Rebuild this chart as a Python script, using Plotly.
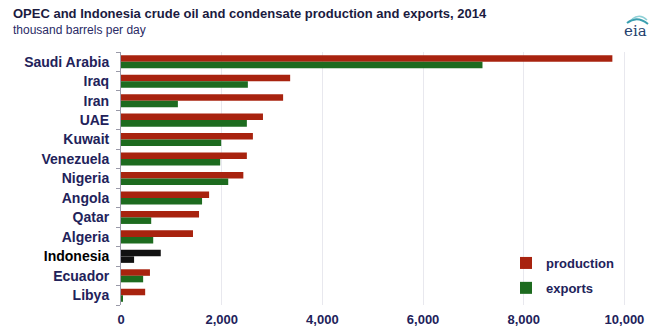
import plotly.graph_objects as go

countries = ["Saudi Arabia", "Iraq", "Iran", "UAE", "Kuwait", "Venezuela", "Nigeria",
             "Angola", "Qatar", "Algeria", "Indonesia", "Ecuador", "Libya"]
production = [9760, 3360, 3220, 2820, 2620, 2500, 2430, 1750, 1550, 1430, 790, 575, 480]
exports = [7180, 2520, 1130, 2500, 1990, 1970, 2130, 1610, 600, 640, 260, 440, 40]

PROD_COLOR = "#a8230f"
EXP_COLOR = "#1d6b1f"
HIGHLIGHT = "Indonesia"
HIGHLIGHT_COLOR = "#111111"

prod_colors = [HIGHLIGHT_COLOR if c == HIGHLIGHT else PROD_COLOR for c in countries]
exp_colors = [HIGHLIGHT_COLOR if c == HIGHLIGHT else EXP_COLOR for c in countries]

LABEL_COLOR = "#22225a"
FONT = "Liberation Sans, Arial, sans-serif"

L, R, T, B = 121, 28, 52, 24
PW = 660 - L - R
PH = 329 - T - B

fig = go.Figure()
fig.add_trace(go.Bar(y=countries, x=production, name="production", orientation="h",
                     marker=dict(color=prod_colors, line=dict(width=0)),
                     legendgroup="p"))
fig.add_trace(go.Bar(y=countries, x=exports, name="exports", orientation="h",
                     marker=dict(color=exp_colors, line=dict(width=0)),
                     legendgroup="e"))

ticktext = [f"<span style='color:#000000'>{c}</span>" if c == HIGHLIGHT else c for c in countries]

fig.update_layout(
    width=660, height=329,
    margin=dict(l=L, r=R, t=T, b=B, autoexpand=False),
    paper_bgcolor="white", plot_bgcolor="white",
    barmode="group", bargap=0.33, bargroupgap=0,
    font=dict(family=FONT, size=13, color=LABEL_COLOR),
    showlegend=True,
    legend=dict(x=(506 - L) / PW, y=1 - (248 - T) / PH, xanchor="left", yanchor="top",
                bgcolor="rgba(0,0,0,0)", font=dict(size=13, color=LABEL_COLOR, weight="bold"),
                traceorder="grouped", tracegroupgap=5, itemwidth=30),
    xaxis=dict(range=[0, 10150], tickvals=[0, 2000, 4000, 6000, 8000, 10000],
               tickformat=",", showgrid=True, gridcolor="#e8e8ee", gridwidth=1,
               zeroline=False, showline=False, ticks="", automargin=False,
               ticklabelstandoff=5,
               tickfont=dict(size=13, color=LABEL_COLOR, weight="bold")),
    yaxis=dict(categoryorder="array", categoryarray=countries, autorange="reversed",
               tickvals=countries, ticktext=ticktext, automargin=False,
               showline=True, linecolor="#9a9aa8", linewidth=1,
               ticks="outside", tickson="boundaries", ticklen=4, tickcolor="#9a9aa8",
               ticklabelstandoff=8,
               showgrid=False, zeroline=False,
               tickfont=dict(size=14, color=LABEL_COLOR, weight="bold")),
)

def py(ypix):
    return 1 + (T - ypix) / PH

def px(xpix):
    return (xpix - L) / PW

fig.add_annotation(xref="paper", yref="paper", x=px(11), y=py(14), xanchor="left", yanchor="middle",
                   text="OPEC and Indonesia crude oil and condensate production and exports, 2014",
                   showarrow=False, font=dict(family=FONT, size=13, color="#1b1b3f", weight="bold"))
fig.add_annotation(xref="paper", yref="paper", x=px(11), y=py(30), xanchor="left", yanchor="middle",
                   text="thousand barrels per day",
                   showarrow=False, font=dict(family=FONT, size=12, color="#2a2a66"))
# eia logo
fig.add_annotation(xref="paper", yref="paper", x=px(635), y=py(31), xanchor="center", yanchor="middle",
                   text="eia", showarrow=False,
                   font=dict(family="DejaVu Serif, Liberation Serif, serif", size=15, color="#23406e"))
fig.add_shape(type="path", xref="paper", yref="paper",
              path=f"M {px(627)},{py(23)} Q {px(637)},{py(15)} {px(648)},{py(24)}",
              line=dict(color="#3a9fb0", width=2))
fig.add_shape(type="path", xref="paper", yref="paper",
              path=f"M {px(632)},{py(19)} Q {px(640)},{py(13)} {px(647)},{py(20)}",
              line=dict(color="#8fd0d6", width=1.5))

fig.write_html("out.html", config={"displayModeBar": False},
               post_script="document.body.style.margin='0';")
